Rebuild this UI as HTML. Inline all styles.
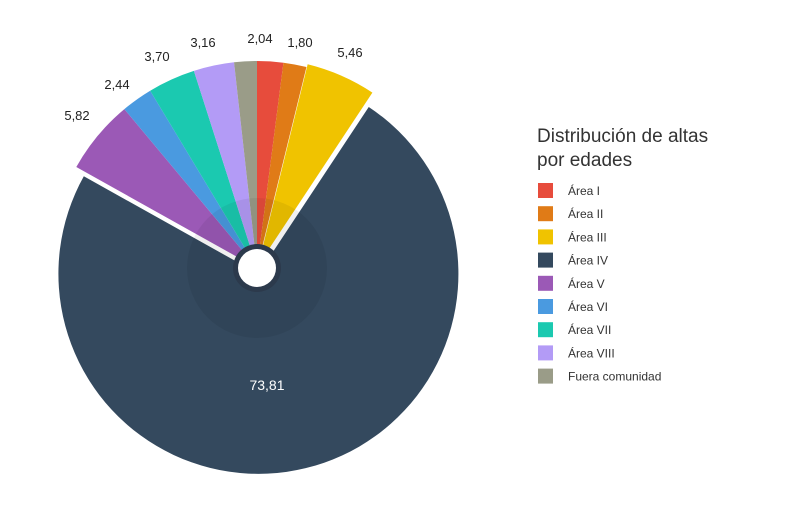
<!DOCTYPE html>
<html><head><meta charset="utf-8">
<style>
body{margin:0;background:#fff;width:805px;height:515px;overflow:hidden;font-family:"Liberation Sans",sans-serif;}
svg{position:absolute;left:0;top:0}
</style></head><body>
<svg id="s" width="805" height="515" xmlns="http://www.w3.org/2000/svg">
<g id="pie"></g>
<circle cx="257" cy="268" r="70" fill="#000" opacity="0.06"/>
<circle cx="257" cy="268" r="24" fill="#2c3a4c"/>
<circle cx="257" cy="268" r="19" fill="#fff"/>
<g font-size="13" fill="#222" text-anchor="middle">
<text x="260" y="43">2,04</text>
<text x="300" y="47">1,80</text>
<text x="350" y="57">5,46</text>
<text x="77" y="120">5,82</text>
<text x="117" y="89">2,44</text>
<text x="157" y="61">3,70</text>
<text x="203" y="47">3,16</text>
<text x="267" y="390" fill="#fff" font-size="14">73,81</text>
</g>
<g font-size="19" fill="#333"><text x="537" y="142">Distribución de altas</text><text x="537" y="166">por edades</text></g>
<g id="leg" font-size="12" fill="#333"></g>
</svg>
<script>
var d=[[2.04,"#e74c3c","Área I"],[1.80,"#e07b17","Área II"],[5.46,"#f0c300","Área III"],[73.81,"#34495e","Área IV"],[5.82,"#9b59b6","Área V"],[2.44,"#4a9ae0","Área VI"],[3.70,"#1bc9b0","Área VII"],[3.16,"#b39bf6","Área VIII"],[1.77,"#9a9c88","Fuera comunidad"]];
var cx=257,cy=268,a=0,g=document.getElementById('pie'),L=document.getElementById('leg'),ns="http://www.w3.org/2000/svg";
function pt(x,y,rr,t){t=t*Math.PI/180;return [x+rr*Math.sin(t),y-rr*Math.cos(t)];}
d.forEach(function(s,i){var sw=s[0]*3.6,b=a+sw,m=a+sw/2,off=(i==3?6:(i==2?3:0)),r=(i==3?200:207);
var x=cx+off*Math.sin(m*Math.PI/180),y=cy-off*Math.cos(m*Math.PI/180);
var p1=pt(x,y,r,a),p2=pt(x,y,r,b);
var p=document.createElementNS(ns,'path');
p.setAttribute('d','M'+x+','+y+'L'+p1+'A'+r+','+r+' 0 '+(sw>180?1:0)+' 1 '+p2+'Z');
p.setAttribute('fill',s[1]);g.appendChild(p);a=b;
var ry=183+i*23.2;var q=document.createElementNS(ns,'rect');q.setAttribute('x',538);q.setAttribute('y',ry);q.setAttribute('width',15);q.setAttribute('height',15);q.setAttribute('fill',s[1]);L.appendChild(q);
var t=document.createElementNS(ns,'text');t.setAttribute('x',568);t.setAttribute('y',ry+12);t.textContent=s[2];L.appendChild(t);});
</script>
</body></html>
